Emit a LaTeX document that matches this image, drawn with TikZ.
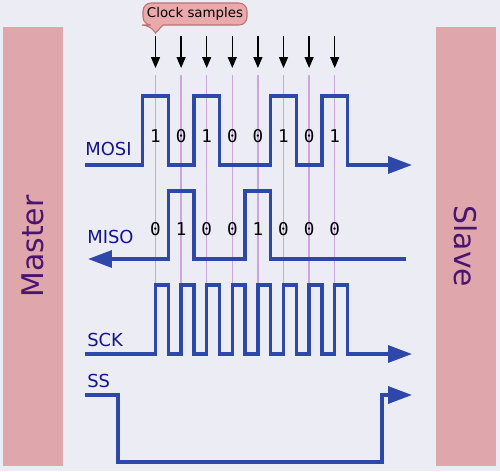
\documentclass[tikz,border=0pt]{standalone}
\usepackage{fontspec}
\setmainfont{DejaVu Sans}
\setmonofont{DejaVu Sans Mono}
\usetikzlibrary{arrows.meta, positioning}

\definecolor{bgcol}{RGB}{236,236,245}
\definecolor{boxpink}{RGB}{223,166,172}
\definecolor{unittext}{RGB}{75,20,110}
\definecolor{sigblue}{RGB}{46,72,170}
\definecolor{labelblue}{RGB}{20,20,140}
\definecolor{samplecol}{RGB}{205,165,222}
\definecolor{bubblefill}{RGB}{234,170,172}
\definecolor{bubbleedge}{RGB}{190,112,112}

\tikzset{
  sig/.style={draw=sigblue, line width=1.9pt},
  sigarrow/.style={sig, -{Triangle[length=0.48cm, width=0.34cm]}},
  unit/.style={fill=boxpink, text=unittext, minimum width=8.78cm, minimum height=1.2cm,
    inner sep=0pt, font=\fontsize{17}{20}\selectfont},
  siglabel/.style={text=labelblue, anchor=base west, inner sep=0pt, font=\fontsize{10.2}{12}\selectfont},
  bit/.style={anchor=base, inner sep=0pt, font=\ttfamily\fontsize{10}{12}\selectfont},
  sample/.style={draw=samplecol, line width=0.85pt},
  tick/.style={draw=black, line width=0.75pt, -{Triangle[length=0.22cm, width=0.18cm]}},
}

\begin{document}
\begin{tikzpicture}[x=0.02cm, y=-0.02cm]
  \fill[bgcol] (0,0) rectangle (500,471);
  \useasboundingbox (0,0) rectangle (500,471);

  \node[unit, rotate=90] (master) at (33,246.5) {Master};
  \node[unit, rotate=-90] (slave) at (466,246.5) {Slave};

  % sampling instants
  \foreach \i in {0,...,7} {
    \coordinate (arrtop\i) at ({155.5+25.6*\i},36);
    \coordinate (arrtip\i) at ({155.5+25.6*\i},68);
    \coordinate (linetop\i) at ({155.5+25.6*\i},75);
    \coordinate (linebot\i) at ({155.5+25.6*\i},285);
    \draw[sample] (linetop\i) -- (linebot\i);
    \draw[tick] (arrtop\i) -- (arrtip\i);
  }

  \draw[draw=bubbleedge, fill=bubblefill, line width=0.6pt]
    (155.5,33) -- (163,25) [rounded corners=0.16cm] -- (247,25) -- (247,3)
    -- (143,3) -- (143,25) -- (150,25) [sharp corners] -- cycle;
  \node[font=\fontsize{7.6}{9}\selectfont] (clk) at (195,14) {Clock samples};

  % MOSI
  \draw[sigarrow] (85,165) -| (142.7,96) -| (168.3,165) -| (193.9,96) -| (219.5,165)
    -| (270.7,96) -| (296.3,165) -| (321.9,96) -| (347.5,165) -- (412,165);
  \node[siglabel] (mosi) at (85,155) {MOSI};
  \foreach \b [count=\i] in {1,0,1,0,0,1,0,1}
    \node[bit] (mosibit\i) at ({155.5+25.6*(\i-1)},142) {\b};

  % MISO
  \draw[sigarrow] (406,259) -| (270.7,191) -| (245.1,259) -| (193.9,191) -| (168.3,259) -- (88,259);
  \node[siglabel] (miso) at (87,243) {MISO};
  \foreach \b [count=\i] in {0,1,0,0,1,0,0,0}
    \node[bit] (misobit\i) at ({155.5+25.6*(\i-1)},235) {\b};

  % SCK
  \draw[sigarrow] (85,354) \foreach \i in {0,...,7} {
      -- ({155.5+25.6*\i},354) -- ++(0,-69) -- ++(12.8,0) -- ++(0,69) } -- (412,354);
  \node[siglabel] (sck) at (87,346) {SCK};

  % SS
  \draw[sigarrow] (85,395) -| (118,462) -| (382,395) -- (412,395);
  \node[siglabel] (ss) at (87,387) {SS};
\end{tikzpicture}
\end{document}
